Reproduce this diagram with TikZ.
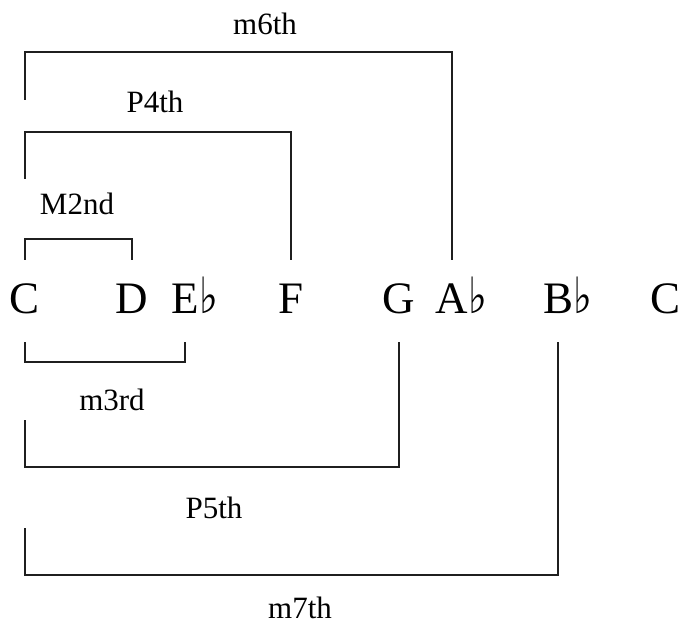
\documentclass[tikz,border=0pt]{standalone}
\usepackage{fontspec}
\setmainfont{Liberation Serif}
\newfontfamily\symfont{DejaVu Sans}
\newcommand{\flatsym}{\rlap{\kern0.5pt\scalebox{0.8}[1]{\fontsize{50}{50}\selectfont\symfont ♭}}}
\tikzset{
  br/.style={line width=2.4pt, draw=black!88, line cap=butt, line join=miter},
  note/.style={font=\fontsize{45}{45}\selectfont, anchor=base, inner sep=0pt,
               text height=53pt, text depth=29pt},
  lbl/.style={font=\fontsize{31}{31}\selectfont, anchor=base, inner sep=0pt}
}
\begin{document}
\begin{tikzpicture}[x=1pt,y=1pt]
\useasboundingbox (0,0) rectangle (684,627);
% notes
\node[note] (nC)  at (25,314)  {C};
\node[note] (nD)  at (132,314) {D};
\node[note] (nEb) at (185,314) {E\flatsym};
\node[note] (nF)  at (291,314) {F};
\node[note] (nG)  at (399,314) {G};
\node[note] (nAb) at (452,314) {A\flatsym};
\node[note] (nBb) at (558,314) {B\flatsym};
\node[note] (nCC) at (665,314) {C};
% free ends of the long brackets
\coordinate (s6) at (nC.north |- 0,527);
\coordinate (s4) at (nC.north |- 0,448);
\coordinate (s5) at (nC.south |- 0,207);
\coordinate (s7) at (nC.south |- 0,99);
% brackets
\draw[br] (s6) -- (nC.north |- 0,575) -| (nAb.north);
\draw[br] (s4) -- (nC.north |- 0,495) -| (nF.north);
\draw[br] (nC.north) -- (nC.north |- 0,388) -| (nD.north);
\draw[br] (nC.south) -- (nC.south |- 0,265) -| (nEb.south);
\draw[br] (s5) -- (nC.south |- 0,160) -| (nG.south);
\draw[br] (s7) -- (nC.south |- 0,52) -| (nBb.south);
% labels
\node[lbl] (l6) at (265,592) {m6th};
\node[lbl] (l4) at (155,514) {P4th};
\node[lbl] (l2) at (77,412)  {M2nd};
\node[lbl] (l3) at (112,217) {m3rd};
\node[lbl] (l5) at (214,109) {P5th};
\node[lbl] (l7) at (300,9)   {m7th};
\end{tikzpicture}
\end{document}
